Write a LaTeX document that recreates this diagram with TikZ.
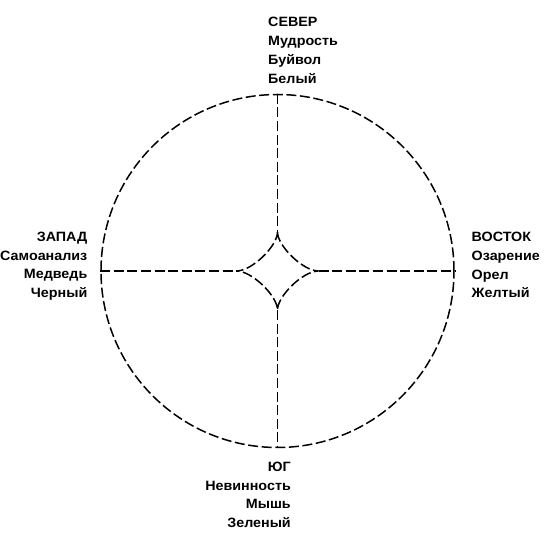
\documentclass[tikz,border=0pt]{standalone}
\usepackage{fontspec}
\setmainfont{Liberation Sans}[FakeStretch=1.06]
\begin{document}
\begin{tikzpicture}[x=1pt,y=-1pt,
  dline/.style={line width=1.5pt,dash pattern=on 10pt off 3.6pt},
  lbl/.style={font=\bfseries\fontsize{13.5}{19}\selectfont,inner sep=0pt}]
\useasboundingbox (0,0) rectangle (550,545);
\node[circle,draw,dline,minimum size=353pt,inner sep=0pt] (c) at (277.5,271) {};
\coordinate (ct) at (277.5,232);
\coordinate (cb) at (277.5,310);
\coordinate (cl) at (236.5,271);
\coordinate (cr) at (318.5,271);
\draw[dline] (c.north) -- (ct);
\draw[dline] (cb) -- (c.south);
\draw[dline] (c.west) -- (cl);
\draw[dline] (cr) -- (c.east);
\draw[dline] (ct) .. controls (277.5,246) and (303,271) .. (cr)
  .. controls (303,271) and (277.5,296) .. (cb)
  .. controls (277.5,296) and (252,271) .. (cl)
  .. controls (252,271) and (277.5,246) .. (ct);
% North
\node[lbl,anchor=base west] (n1) at (268,26.7) {СЕВЕР};
\node[lbl,anchor=base west] (n2) at (268,45.6) {Мудрость};
\node[lbl,anchor=base west] (n3) at (268,64.5) {Буйвол};
\node[lbl,anchor=base west] (n4) at (268,83.4) {Белый};
% West
\node[lbl,anchor=base east] (w1) at (87.5,241.7) {ЗАПАД};
\node[lbl,anchor=base east] (w2) at (87.5,260.3) {Самоанализ};
\node[lbl,anchor=base east] (w3) at (87.5,278.9) {Медведь};
\node[lbl,anchor=base east] (w4) at (87.5,297.5) {Черный};
% East
\node[lbl,anchor=base west] (e1) at (471.5,242) {ВОСТОК};
\node[lbl,anchor=base west] (e2) at (471.5,260.6) {Озарение};
\node[lbl,anchor=base west] (e3) at (471.5,279.2) {Орел};
\node[lbl,anchor=base west] (e4) at (471.5,297.8) {Желтый};
% South
\node[lbl,anchor=base east] (s1) at (291,471.5) {ЮГ};
\node[lbl,anchor=base east] (s2) at (291,490.2) {Невинность};
\node[lbl,anchor=base east] (s3) at (291,508.9) {Мышь};
\node[lbl,anchor=base east] (s4) at (291,527.5) {Зеленый};
\end{tikzpicture}
\end{document}
